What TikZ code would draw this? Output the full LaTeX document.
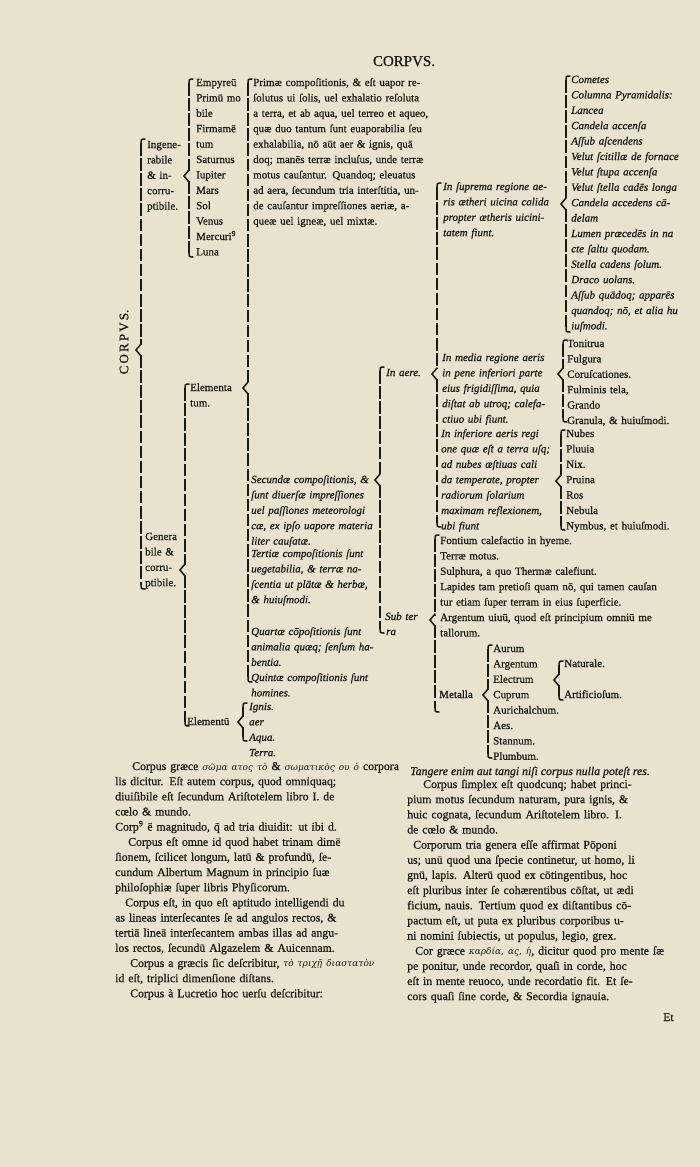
\documentclass[tikz,border=0pt]{standalone}
\usepackage{fontspec}
\setmainfont{Liberation Serif}[FakeBold=0.7]
\newfontfamily\grk{DejaVu Serif}
\usepackage{tikz}
\definecolor{paper}{RGB}{233,226,206}
\definecolor{ink}{RGB}{24,26,20}
\tikzset{
	entry/.style={anchor=base west, align=left, inner sep=0pt, text width=260pt, text=ink, font=\fontsize{11}{15.4}\selectfont},
	slant/.style={entry, font=\fontsize{11}{15.4}\selectfont\itshape},
	prose/.style={anchor=base west, align=left, inner sep=0pt, text=ink, font=\fontsize{11.8}{15.15}\selectfont},
	rule/.style={draw=ink, line width=2pt, dash pattern=on 12.5pt off 2.6pt},
	curl/.style={draw=ink, line width=1.5pt, line cap=round}
}
% x, top, tip, bottom of one printed brace
\newcommand\bracer[4]{%
	\draw[rule] (#1,#2) -- (#1,#3-5);
	\draw[rule] (#1,#3+5) -- (#1,#4);
	\draw[curl] (#1+4,#2-4) .. controls (#1,#2-4) .. (#1,#2+2);
	\draw[curl] (#1,#4-2) .. controls (#1,#4+4) .. (#1+4,#4+4);
	\draw[curl] (#1,#3-6) -- (#1-5,#3) -- (#1,#3+6);
}
\newcommand\jst[1]{\makebox[\linewidth][s]{#1}}

\begin{document}
\begin{tikzpicture}[x=1pt,y=-1pt]
	\useasboundingbox (0,0) rectangle (700,1167);
	\fill[paper] (0,0) rectangle (700,1167);
	
	\node[anchor=base, text=ink, font=\fontsize{15}{15}\selectfont] (title) at (404,66) {CORPVS.};
	\node[rotate=90, text=ink, font=\fontsize{13}{13}\selectfont] (side) at (124,342) {C\,O\,R\,P\,V\,S.};
	
	% left column
	\bracer{141}{143}{350}{585}
	\node[entry] (ingen) at (147,148) {Ingene-\\rabile\\\& in-\\corru-\\ptibile.};
	\bracer{189}{83}{176}{253}
	\node[entry] (empyr) at (196,86) {Empyreū\\Primū mo\\bile\\Firmamē\\tum\\Saturnus\\Iupiter\\Mars\\Sol\\Venus\\Mercuri\textsuperscript{9}\\Luna};
	\node[entry] (gener) at (145,540) {Genera\\bile \&\\corru-\\ptibile.};
	\bracer{185}{388}{570}{722}
	\node[entry] (elemtum) at (190,391) {Elementa\\tum.};
	\node[entry] (elemum) at (187,725) {Elementū};
	
	% compositions
	\bracer{248}{83}{388}{678}
	\node[entry] (primae) at (253,86) {Primæ compoſitionis, \& eſt uapor re-\\ſolutus ui ſolis, uel exhalatio reſoluta\\a terra, et ab aqua, uel terreo et aqueo,\\quæ duo tantum ſunt euaporabilia ſeu\\exhalabilia, nō aūt aer \& ignis, quā\\doq; manēs terræ incluſus, unde terræ\\motus cauſantur. Quandoq; eleuatus\\ad aera, ſecundum tria interſtitia, un-\\de cauſantur impreſſiones aeriæ, a-\\queæ uel igneæ, uel mixtæ.};
	\node[slant] (secundae) at (251,483) {Secundæ compoſitionis, \&\\ſunt diuerſæ impreſſiones\\uel paſſiones meteorologi\\cæ, ex ipſo uapore materia\\liter cauſatæ.};
	\node[slant] (tertiae) at (251,557) {Tertiæ compoſitionis ſunt\\uegetabilia, \& terræ na-\\ſcentia ut plātæ \& herbæ,\\\& huiuſmodi.};
	\node[slant] (quartae) at (251,635) {Quartæ cōpoſitionis ſunt\\animalia quæq; ſenſum ha-\\bentia.};
	\node[slant] (quintae) at (251,681) {Quintæ compoſitionis ſunt\\homines.};
	\bracer{243}{707}{722}{737}
	\node[slant] (elems) at (249,710) {Ignis.\\aer\\Aqua.\\Terra.};
	
	% aer and terra
	\bracer{380}{371}{480}{629}
	\node[slant] (inaere) at (386,376) {In aere.};
	\node[slant] (subter) at (385,620) {Sub ter};
	\node[slant] (ra) at (386,635) {ra};
	\bracer{437}{187}{374}{523}
	\node[slant] (suprema) at (443,190) {In ſuprema regione ae-\\ris ætheri uicina calida\\propter ætheris uicini-\\tatem fiunt.};
	\node[slant] (media) at (442,361) {In media regione aeris\\in pene inferiori parte\\eius frigidiſſima, quia\\diſtat ab utroq; calefa-\\ctiuo ubi fiunt.};
	\node[slant] (inferiore) at (441,437) {In inferiore aeris regi\\one quæ eſt a terra uſq;\\ad nubes æſtiuas cali\\da temperate, propter\\radiorum ſolarium\\maximam reflexionem,\\ubi fiunt};
	\bracer{435}{539}{620}{708}
	\node[entry] (subtlist) at (440,544) {Fontium calefactio in hyeme.\\Terræ motus.\\Sulphura, a quo Thermæ calefiunt.\\Lapides tam pretioſi quam nō, qui tamen cauſan\\tur etiam ſuper terram in eius ſuperficie.\\Argentum uiuū, quod eſt principium omniū me\\tallorum.};
	\node[entry] (metalla) at (439,698) {Metalla};
	\bracer{488}{649}{695}{754}
	\node[entry] (metals) at (493,652) {Aurum\\Argentum\\Electrum\\Cuprum\\Aurichalchum.\\Aes.\\Stannum.\\Plumbum.};
	\bracer{559}{665}{680}{696}
	\node[entry] (naturale) at (564,667) {Naturale.};
	\node[entry] (artif) at (564,698) {Artificioſum.};
	
	% right column
	\bracer{566}{80}{204}{328}
	\node[slant] (cometes) at (571,83) {Cometes\\Columna Pyramidalis:\\Lancea\\Candela accenſa\\Aſſub aſcendens\\Velut ſcitillæ de fornace\\Velut ſtupa accenſa\\Velut ſtella cadēs longa\\Candela accedens cā-\\delam\\Lumen præcedēs in na\\cte ſaltu quodam.\\Stella cadens ſolum.\\Draco uolans.\\Aſſub quādoq; apparēs\\quandoq; nō, et alia hu\\iuſmodi.};
	\bracer{563}{344}{374}{418}
	\node[entry] (tonitrua) at (567,347) {Tonitrua\\Fulgura\\Coruſcationes.\\Fulminis tela,\\Grando\\Granula, \& huiuſmodi.};
	\bracer{561}{434}{481}{526}
	\node[entry] (nubes) at (566,437) {Nubes\\Pluuia\\Nix.\\Pruina\\Ros\\Nebula\\Nymbus, et huiuſmodi.};
	
	% text below
	\node[prose, text width=270pt] (proseL) at (115,770) {%
		\jst{\hspace*{17pt}Corpus græce {\grk\itshape\small σῶμα ατος τὸ} \& {\grk\itshape\small σωματικὸς ου ὁ} corpora}\\
		\jst{lis dicitur. Eſt autem corpus, quod omniquaq;}\\
		\jst{diuiſibile eſt ſecundum Ariſtotelem libro I. de}\\
		cœlo \& mundo.\\
		\jst{Corp\textsuperscript{9} ē magnitudo, \={q} ad tria diuidit: ut ibi d.}\\
		\jst{\hspace*{13pt}Corpus eſt omne id quod habet trinam dimē}\\
		\jst{ſionem, ſcilicet longum, latū \& profundū, ſe-}\\
		\jst{cundum Albertum Magnum in principio ſuæ}\\
		philoſophiæ ſuper libris Phyſicorum.\\
		\jst{\hspace*{10pt}Corpus eſt, in quo eſt aptitudo intelligendi du}\\
		\jst{as lineas interſecantes ſe ad angulos rectos, \&}\\
		\jst{tertiā lineā interſecantem ambas illas ad angu-}\\
		\jst{los rectos, ſecundū Algazelem \& Auicennam.}\\
		\jst{\hspace*{15pt}Corpus a græcis ſic deſcribitur, {\grk\itshape\small τὸ τριχῇ διαστατὸν}}\\
		id eſt, triplici dimenſione diſtans.\\
		\hspace*{15pt}Corpus à Lucretio hoc uerſu deſcribitur:};
	\node[prose, font=\fontsize{11.8}{15.15}\selectfont\itshape] (tangere) at (410,775) {Tangere enim aut tangi niſi corpus nulla poteſt res.};
	\node[prose, text width=268pt] (proseR) at (407,788) {%
		\jst{\hspace*{16pt}Corpus ſimplex eſt quodcunq; habet princi-}\\
		\jst{pium motus ſecundum naturam, pura ignis, \&}\\
		\jst{huic cognata, ſecundum Ariſtotelem libro. I.}\\
		de cœlo \& mundo.\\
		\jst{\hspace*{6pt}Corporum tria genera eſſe affirmat Pōponi}\\
		\jst{us; unū quod una ſpecie continetur, ut homo, li}\\
		\jst{gnū, lapis. Alterū quod ex cōtingentibus, hoc}\\
		\jst{eſt pluribus inter ſe cohærentibus cōſtat, ut ædi}\\
		\jst{ficium, nauis. Tertium quod ex diſtantibus cō-}\\
		\jst{pactum eſt, ut puta ex pluribus corporibus u-}\\
		ni nomini ſubiectis, ut populus, legio, grex.\\
		\jst{\hspace*{8pt}Cor græce {\grk\itshape\small καρδία, ας, ἡ}, dicitur quod pro mente ſæ}\\
		\jst{pe ponitur, unde recordor, quaſi in corde, hoc}\\
		\jst{eſt in mente reuoco, unde recordatio fit. Et ſe-}\\
		cors quaſi ſine corde, \& Secordia ignauia.};
	\node[prose] (catch) at (663,1021) {Et};
\end{tikzpicture}
\end{document}
